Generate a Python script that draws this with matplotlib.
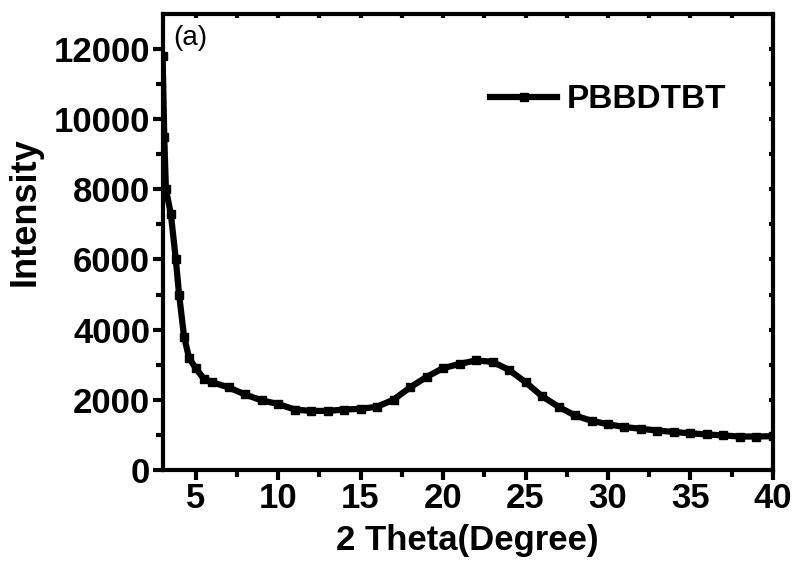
import numpy as np
import matplotlib.pyplot as plt

# XRD pattern
two_theta = [3.0, 3.1, 3.2, 3.5, 3.8, 4.0, 4.3, 4.6, 5.0, 5.5, 6.0, 7.0, 8.0, 9.0,
             10.0, 11.0, 12.0, 13.0, 14.0, 15.0, 16.0, 17.0, 18.0, 19.0, 20.0,
             21.0, 22.0, 23.0, 24.0, 25.0, 26.0, 27.0, 28.0, 29.0, 30.0, 31.0,
             32.0, 33.0, 34.0, 35.0, 36.0, 37.0, 38.0, 39.0, 40.0]
intensity = [11800, 9500, 8000, 7300, 6000, 5000, 3800, 3200, 2900, 2600, 2500,
             2350, 2150, 1980, 1880, 1720, 1680, 1680, 1720, 1740, 1800, 2000,
             2350, 2650, 2900, 3020, 3120, 3080, 2850, 2500, 2100, 1800, 1550,
             1400, 1300, 1220, 1170, 1120, 1080, 1040, 1010, 980, 950, 950, 960]
series_name = 'PBBDTBT'
x_ticks = [5, 10, 15, 20, 25, 30, 35, 40]
y_ticks = [0, 2000, 4000, 6000, 8000, 10000, 12000]

plt.rcParams['font.family'] = ['Liberation Sans', 'DejaVu Sans']

fig = plt.figure(figsize=(8.01, 5.62), dpi=100)
ax = fig.add_axes([0.203, 0.164, 0.762, 0.811])

ax.plot(two_theta, intensity, color='black', lw=4.5, marker='s', ms=5.5,
        label=series_name)

ax.set_xlim(3, 40)
ax.set_ylim(0, 13000)
ax.set_xticks(x_ticks)
ax.set_yticks(y_ticks)
ax.set_xticks(np.arange(7.5, 40, 5), minor=True)
ax.set_yticks(np.arange(1000, 13000, 2000), minor=True)

for s in ax.spines.values():
    s.set_linewidth(3)

# outward ticks bottom/left
ax.tick_params(which='major', direction='out', length=7, width=3,
               labelsize=25, pad=2)
ax.tick_params(which='minor', direction='out', length=5, width=3)
ax.tick_params(which='both', top=True, right=True)
for lab in ax.get_xticklabels() + ax.get_yticklabels():
    lab.set_fontweight('bold')
# top/right ticks go inward and are short
for t in ax.xaxis.get_major_ticks() + ax.xaxis.get_minor_ticks():
    t.tick2line.set_markersize(3)
    t.tick2line.set_marker(3)
for t in ax.yaxis.get_major_ticks() + ax.yaxis.get_minor_ticks():
    t.tick2line.set_markersize(3)
    t.tick2line.set_marker(0)

ax.set_xlabel('2 Theta(Degree)', fontsize=25, fontweight='bold', labelpad=6)
ax.set_ylabel('Intensity', fontsize=26, fontweight='bold')
ax.yaxis.set_label_coords(-0.196, 0.566)

ax.text(0.017, 0.975, '(a)', transform=ax.transAxes, fontsize=20,
        va='top', ha='left')

leg = ax.legend(loc='center left', bbox_to_anchor=(0.537, 0.812), frameon=False,
                handlelength=2.0, handletextpad=0.3, borderpad=0,
                borderaxespad=0, prop={'size': 24, 'weight': 'bold'})

fig.savefig('out.png', dpi=100)
